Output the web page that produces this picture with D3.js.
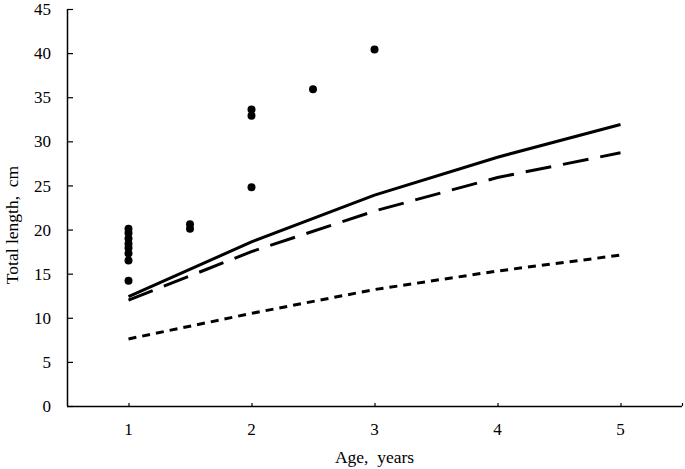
<!DOCTYPE html>
<html><head><meta charset="utf-8">
<script src="https://cdn.jsdelivr.net/npm/d3@7"></script>
<style>
html,body{margin:0;padding:0;background:#fff;}
text{font-family:"Liberation Serif","Times New Roman",serif;fill:#000;white-space:pre;}
</style></head>
<body><svg id="c" width="685" height="469"></svg>
<script>
// Observed data
const obsAge = [1,1,1,1,1,1,1,1,1.5,1.5,2,2,2,2.5,3];
const obsLength = [20.1,19.6,19.0,18.4,17.9,17.3,16.5,14.2,20.6,20.1,33.6,32.9,24.8,35.9,40.4];
// Model curves
const curveAge = [1,2,3,4,5];
const solidLength = [12.4,18.6,23.9,28.2,31.9];
const longDashLength = [12.0,17.5,22.1,25.9,28.7];
const shortDashLength = [7.6,10.5,13.2,15.3,17.1];
const yTicks = [0,5,10,15,20,25,30,35,40,45];
const xTicks = [1,2,3,4,5];

const svg = d3.select("#c");
const x = d3.scaleLinear().domain([0.5,5.5]).range([67,682]);
const y = d3.scaleLinear().domain([0,45]).range([406,9]);

// axes
const yAxis = d3.axisRight(y).tickValues(yTicks).tickSize(6).tickFormat("");
const gy = svg.append("g").attr("transform",`translate(${x(0.5)},0)`).call(yAxis);
gy.select(".domain").attr("stroke","#000").attr("stroke-width",1.5).attr("d",`M0.5,${y(45)}V${y(0)}`);
gy.selectAll(".tick line").attr("stroke","#000").attr("stroke-width",1.2);
svg.append("g").selectAll("text").data(yTicks).join("text")
  .attr("x",51).attr("y",d=>y(d)).attr("dy","0.36em").attr("text-anchor","end")
  .attr("font-size",17).text(d=>d);

const xAxis = d3.axisTop(x).tickValues(xTicks.concat([5.5])).tickSize(3).tickFormat("");
const gx = svg.append("g").attr("transform",`translate(0,${y(0)})`).call(xAxis);
gx.select(".domain").attr("stroke","#000").attr("stroke-width",1.5).attr("d",`M${x(0.5)},0.5H${x(5.5)}`);
gx.selectAll(".tick line").attr("stroke","#000").attr("stroke-width",1.2);
svg.append("g").selectAll("text").data(xTicks).join("text")
  .attr("x",d=>x(d)).attr("y",435).attr("text-anchor","middle")
  .attr("font-size",17).text(d=>d);

svg.append("text").attr("x",x(3)).attr("y",463).attr("text-anchor","middle")
  .attr("font-size",17.5).text("Age,  years");
svg.append("text").attr("transform","translate(18,225) rotate(-90)").attr("text-anchor","middle")
  .attr("font-size",17.5).text("Total length,  cm");

// lines
const line = d3.line().x((d,i)=>x(curveAge[i])).y(d=>y(d));
svg.append("path").datum(shortDashLength).attr("d",line).attr("fill","none")
  .attr("stroke","#000").attr("stroke-width",3).attr("stroke-dasharray","8,6");
svg.append("path").datum(longDashLength).attr("d",line).attr("fill","none")
  .attr("stroke","#000").attr("stroke-width",3).attr("stroke-dasharray","26,12");
svg.append("path").datum(solidLength).attr("d",line).attr("fill","none")
  .attr("stroke","#000").attr("stroke-width",3);

// points
svg.append("g").selectAll("circle").data(obsLength).join("circle")
  .attr("cx",(d,i)=>x(obsAge[i])).attr("cy",d=>y(d)).attr("r",4).attr("fill","#000");
</script></body></html>
